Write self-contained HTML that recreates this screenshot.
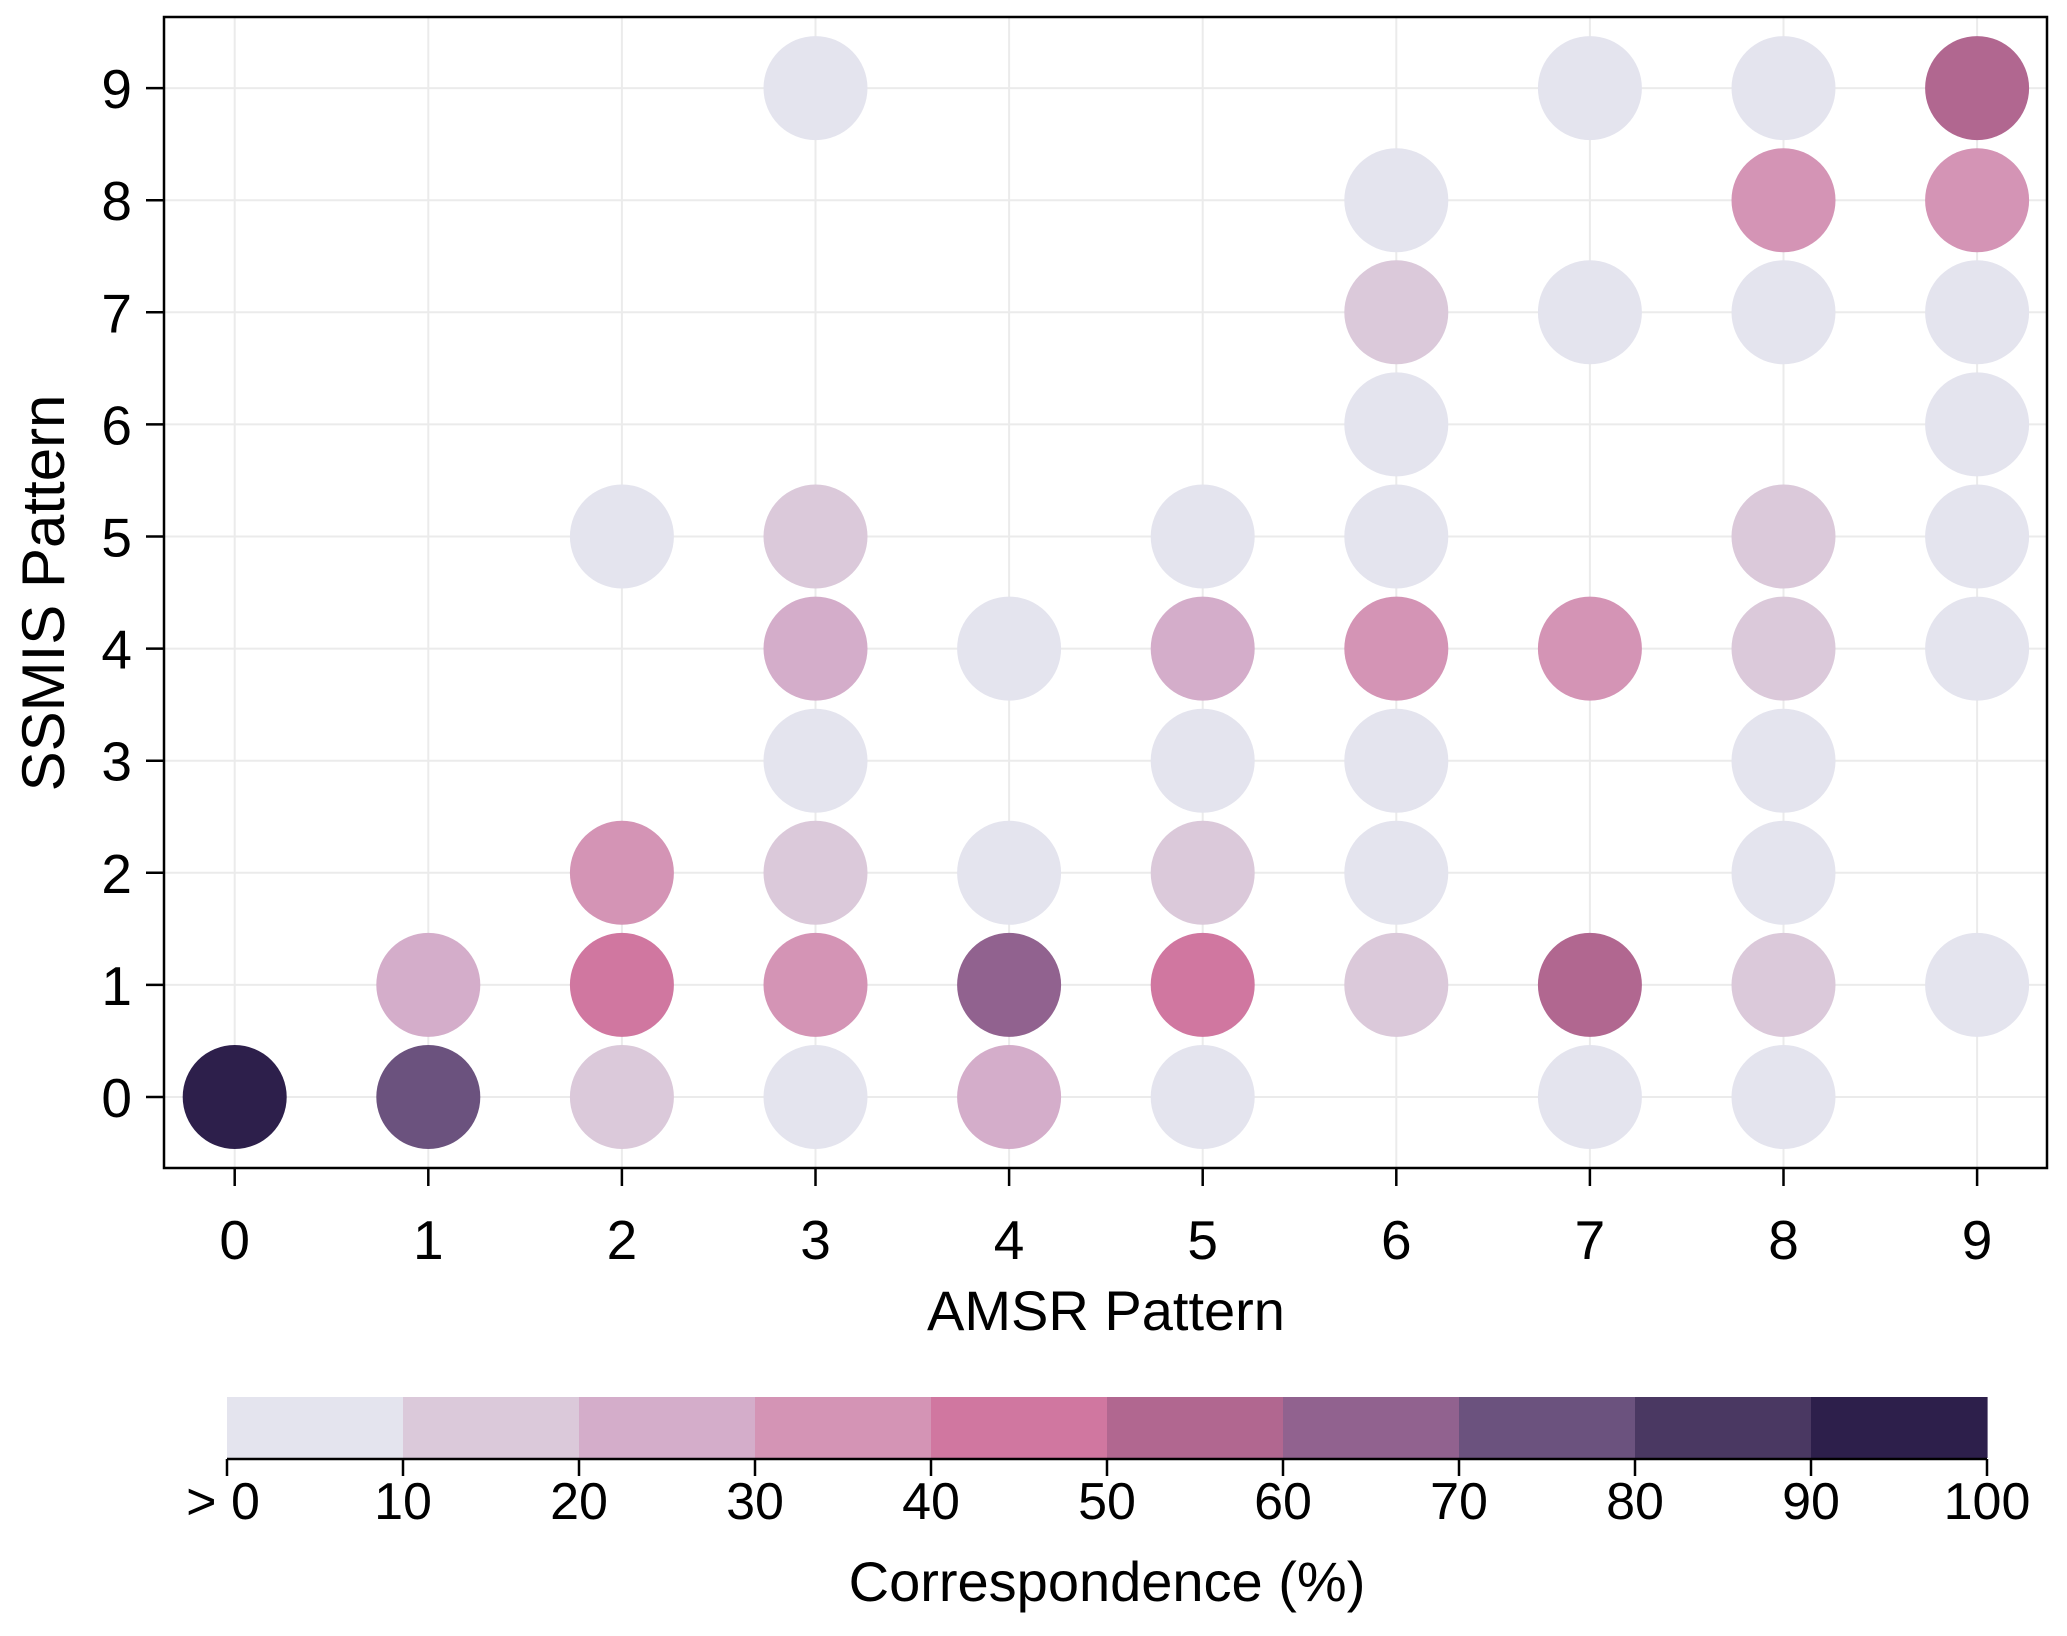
<!DOCTYPE html>
<html><head><meta charset="utf-8"><style>
html,body{margin:0;padding:0;background:#fff;}
svg text{font-family:"Liberation Sans",sans-serif;fill:#000;}
</style></head><body>
<svg id="chart" width="2067" height="1631" viewBox="0 0 2067 1631" xmlns="http://www.w3.org/2000/svg">
<g id="grid"></g>
<g id="marks"></g>
<rect x="164" y="17" width="1883" height="1151" fill="none" stroke="#000" stroke-width="2.5"/>
<g id="axes"></g>
<text x="1106" y="1330" font-size="56" text-anchor="middle">AMSR Pattern</text>
<text transform="translate(64,593) rotate(-90)" font-size="60" text-anchor="middle">SSMIS Pattern</text>
<g id="cbar"></g>
<text x="1107" y="1601" font-size="56" text-anchor="middle">Correspondence (%)</text>
</svg>
<script>
const xVals=[0,1,1,2,2,2,2,3,3,3,3,3,3,3,4,4,4,4,5,5,5,5,5,5,6,6,6,6,6,6,6,6,7,7,7,7,7,8,8,8,8,8,8,8,8,8,9,9,9,9,9,9,9];
const yVals=[0,0,1,0,1,2,5,0,1,2,3,4,5,9,0,1,2,4,0,1,2,3,4,5,1,2,3,4,5,6,7,8,0,1,4,7,9,0,1,2,3,4,5,7,8,9,1,4,5,6,7,8,9];
const pctVals=[95,75,25,15,45,35,5,5,35,15,5,25,15,5,25,65,5,5,5,45,15,5,25,5,15,5,5,35,5,5,15,5,5,55,35,5,5,5,15,5,5,15,15,5,35,5,5,5,5,5,5,35,55];
const tickLabels=["0","1","2","3","4","5","6","7","8","9"];
const cbarTicks=["> 0","10","20","30","40","50","60","70","80","90","100"];
const binColors=["#e4e4ee","#dbc9da","#d4adca","#d494b5","#d077a0","#b16790","#91628f","#6b527e","#4a3862","#2d1f4b"];
const NS="http://www.w3.org/2000/svg";
const xs=v=>234.7+v*193.6, ys=v=>1097-v*112.1;
function mk(tag,attrs,parent,text){const e=document.createElementNS(NS,tag);for(const k in attrs)e.setAttribute(k,attrs[k]);if(text!==undefined)e.textContent=text;parent.appendChild(e);return e;}
const grid=document.getElementById('grid'),marks=document.getElementById('marks'),axes=document.getElementById('axes'),cbar=document.getElementById('cbar');
tickLabels.forEach((t,i)=>{
 let g=mk('line',{x1:xs(i),x2:xs(i),y1:17,y2:1168,stroke:'#ebebeb','stroke-width':2},grid);
 
 
 g=mk('line',{x1:164,x2:2047,y1:ys(i),y2:ys(i),stroke:'#ebebeb','stroke-width':2},grid);
 
 
 let tk=mk('line',{x1:xs(i),x2:xs(i),y1:1168,y2:1186,stroke:'#000','stroke-width':2.5},axes);
 
 
 let lb=mk('text',{x:xs(i),y:1259,'font-size':55,'text-anchor':'middle'},axes,t);
 
 
 tk=mk('line',{x1:146,x2:164,y1:ys(i),y2:ys(i),stroke:'#000','stroke-width':2.5},axes);
 
 
 lb=mk('text',{x:132,y:ys(i)+20,'font-size':55,'text-anchor':'end'},axes,t);
 
 
});
xVals.forEach((x,i)=>{
 const bin=Math.min(9,Math.floor(pctVals[i]/10));
 const c=mk('circle',{cx:xs(x),cy:ys(yVals[i]),r:52,fill:binColors[bin]},marks);
 
 
});
const cx=v=>227+v*17.6;
binColors.forEach((col,i)=>{
 const r=mk('rect',{x:cx(i*10),y:1397,width:176.6,height:61,fill:col},cbar);
 
 
});
let ax=mk('line',{x1:227,x2:1987,y1:1459,y2:1459,stroke:'#000','stroke-width':2.5},cbar);


cbarTicks.forEach((t,i)=>{
 const tk=mk('line',{x1:cx(i*10),x2:cx(i*10),y1:1459,y2:1476,stroke:'#000','stroke-width':2.5},cbar);
 
 
 const lb=mk('text',{x:cx(i*10)+(i==0?-4:0),y:1519,'font-size':52,'text-anchor':'middle'},cbar,t);
 
 
});
</script>
</body></html>
